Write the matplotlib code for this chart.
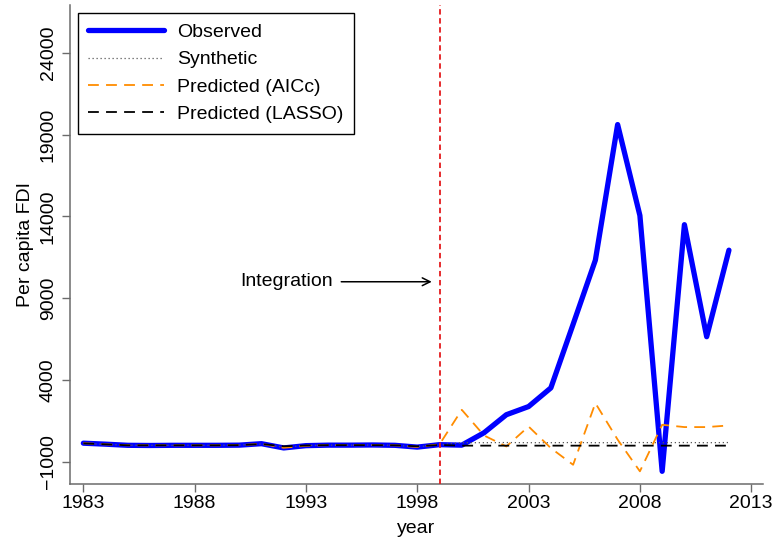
import matplotlib
matplotlib.use("Agg")
import matplotlib.pyplot as plt

plt.rcParams['font.family'] = ['Liberation Sans', 'DejaVu Sans']

years = list(range(1983, 2013))
observed = [130, 70, 0, -10, 0, 0, 0, 10, 100, -160, -20, 10, 10, 20, 0, -110,
            40, 10, 770, 1870, 2370, 3510, 7400, 11320, 19610, 14050, -1590,
            13490, 6640, 11930]
synthetic = [110, 60, 10, 0, 0, 0, 0, 20, 80, -120, -10, 10, 10, 20, 0, -90,
             30, 160, 160, 170, 160, 160, 170, 160, 160, 170, 160, 170, 160, 170]
pred_aicc = [130, 60, 0, 0, 0, 0, 0, 10, 90, -150, -30, 10, 10, 10, 0, -100,
             60, 2170, 600, -70, 1150, -170, -1190, 2580, 350, -1590, 1255,
             1115, 1115, 1215]
pred_lasso = [120, 60, 0, 0, 0, 0, 0, 10, 80, -60, -10, 10, 10, 10, 0, -60,
              20, -20, -20, -20, -20, -20, -20, -20, -20, -20, -20, -20, -20, -20]

treat_year = 1999
x_ticks = [1983, 1988, 1993, 1998, 2003, 2008, 2013]
y_ticks = [-1000, 4000, 9000, 14000, 19000, 24000]

fig = plt.figure(figsize=(7.76, 5.41), dpi=100)
ax = fig.add_axes([70/776, 1-484/541, (763-70)/776, (484-5)/541])

ax.plot(years, observed, color='#0000ff', lw=3.8, label='Observed',
        solid_joinstyle='round', solid_capstyle='round', zorder=3)
ax.plot(years, synthetic, color='0.35', lw=0.9, linestyle=(0, (1, 2.2)),
        label='Synthetic', zorder=4)
ax.plot(years, pred_aicc, color='#ff8c00', lw=1.3, linestyle=(0, (6, 4)),
        label='Predicted (AICc)', zorder=5)
ax.plot(years, pred_lasso, color='black', lw=1.3, linestyle=(0, (6, 4)),
        label='Predicted (LASSO)', zorder=6)

ax.axvline(treat_year, color='#e41a1c', lw=1.3, linestyle=(0, (3, 2)), zorder=7)
ax.annotate('Integration', xy=(1998.65, 10000), xytext=(1990.05, 10000),
            fontsize=14, va='center', ha='left',
            arrowprops=dict(arrowstyle='->', lw=1.1, color='black',
                            shrinkA=4, shrinkB=0, mutation_scale=14))

ax.set_xlim(1982.40, 2013.53)
ax.set_ylim(-2365, 26920)
ax.set_xticks(x_ticks)
ax.set_yticks(y_ticks)
ax.set_yticklabels([str(v).replace('-', '\u2212') for v in y_ticks],
                   rotation=90, va='center')

for side in ['top', 'right']:
    ax.spines[side].set_visible(False)
for side in ['left', 'bottom']:
    ax.spines[side].set_color('0.42')
    ax.spines[side].set_linewidth(1.1)

ax.tick_params(axis='x', length=6, width=1.0, color='0.42', labelsize=14, pad=1.7)
ax.tick_params(axis='y', length=6, width=1.0, color='0.42', labelsize=14, pad=3.6)

ax.set_xlabel('year', fontsize=14, labelpad=6)
ax.set_ylabel('Per capita FDI', fontsize=14)
ax.yaxis.set_label_coords(-0.052, 0.5)

leg = ax.legend(loc='upper left', fontsize=14, frameon=True, fancybox=False,
                edgecolor='black', framealpha=1, handlelength=3.9,
                handletextpad=0.65, labelspacing=0.5, borderpad=0.55,
                borderaxespad=0.4)
leg.get_frame().set_linewidth(1.0)

fig.savefig('out.png', dpi=100)
